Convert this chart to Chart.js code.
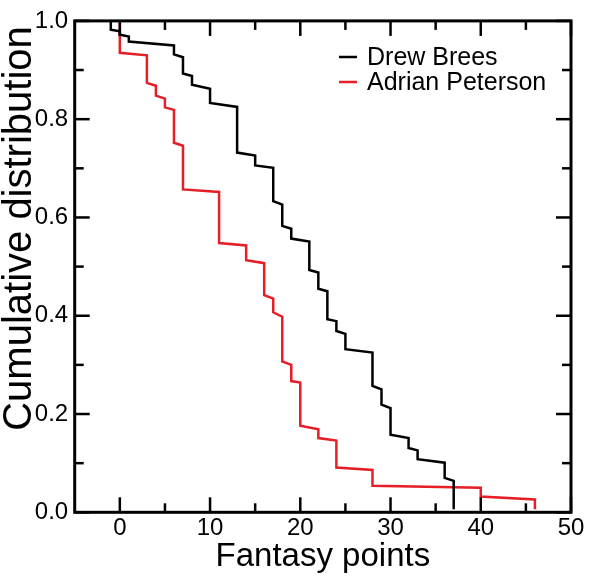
<!DOCTYPE html>
<html>
<head>
<meta charset="utf-8">
<script src="https://cdn.jsdelivr.net/npm/chart.js@4.4.0/dist/chart.umd.min.js"></script>
<style>
  html, body { margin: 0; padding: 0; background: #fff; }
  #wrap { width: 592px; height: 577px; position: relative; }
</style>
</head>
<body>
<div id="wrap"><canvas id="cdf"></canvas></div>
<script>
// points where each curve drops, with the level just before and just after the drop
const breesPoints = [-1, 0, 1, 6, 7, 8, 10, 13, 15, 17, 18, 19, 21, 22, 23, 24, 25, 28, 29, 30, 32, 33, 36, 37];
const breesBefore = [1.0, 0.979, 0.968, 0.950, 0.926, 0.888, 0.862, 0.825, 0.726, 0.701, 0.626, 0.577, 0.551, 0.488, 0.450, 0.389, 0.363, 0.325, 0.250, 0.212, 0.151, 0.126, 0.101, 0.064];
const breesAfter = [0.982, 0.972, 0.958, 0.932, 0.893, 0.870, 0.833, 0.732, 0.706, 0.633, 0.583, 0.557, 0.493, 0.455, 0.393, 0.369, 0.332, 0.257, 0.219, 0.158, 0.131, 0.108, 0.070, 0.006];

const petersonPoints = [0, 3, 4, 5, 6, 7, 11, 14, 16, 17, 18, 19, 20, 22, 24, 28, 40, 46];
const petersonBefore = [1.0, 0.930, 0.868, 0.842, 0.819, 0.746, 0.652, 0.543, 0.507, 0.435, 0.398, 0.300, 0.264, 0.169, 0.146, 0.086, 0.050, 0.026];
const petersonAfter = [0.935, 0.874, 0.848, 0.824, 0.752, 0.657, 0.548, 0.513, 0.442, 0.407, 0.307, 0.267, 0.176, 0.151, 0.091, 0.054, 0.032, 0.006];

const xTicks = [0, 10, 20, 30, 40, 50];
const xMinorTicks = [5, 15, 25, 35, 45];
const yTicks = [0, 0.2, 0.4, 0.6, 0.8, 1.0];
const yMinorTicks = [0.1, 0.3, 0.5, 0.7, 0.9];

const FONT = "'Liberation Sans', Arial, Helvetica, sans-serif";

function steps(xs, before, after) {
  const pts = [];
  xs.forEach((x, i) => {
    pts.push({ x: x, y: before[i] });
    pts.push({ x: x, y: after[i] });
  });
  return pts;
}

// frame with inward ticks on all four sides, legend and y title
const frame = {
  id: 'frame',
  afterDatasetsDraw(chart) {
    const { ctx, chartArea: a, scales: { x, y } } = chart;
    ctx.save();
    ctx.strokeStyle = '#000';
    ctx.lineCap = 'butt';
    const line = (x1, y1, x2, y2) => {
      ctx.beginPath();
      ctx.moveTo(x1, y1);
      ctx.lineTo(x2, y2);
      ctx.stroke();
    };
    ctx.lineWidth = 2.5;
    const xt = (vals, len) => vals.forEach(v => {
      const p = x.getPixelForValue(v);
      line(p, a.bottom, p, a.bottom - len);
      line(p, a.top, p, a.top + len);
    });
    const yt = (vals, len) => vals.forEach(v => {
      const p = y.getPixelForValue(v);
      line(a.left, p, a.left + len, p);
      line(a.right, p, a.right - len, p);
    });
    xt(xTicks, 15);
    xt(xMinorTicks, 9);
    yt(yTicks, 15);
    yt(yMinorTicks, 9);

    ctx.lineWidth = 3;
    ctx.strokeRect(a.left, a.top, a.right - a.left, a.bottom - a.top);

    // legend
    ctx.font = '25px ' + FONT;
    ctx.textBaseline = 'middle';
    ctx.textAlign = 'left';
    chart.data.datasets.forEach((ds, i) => {
      const ly = 57 + i * 25;
      ctx.strokeStyle = ds.borderColor;
      ctx.lineWidth = 2.5;
      line(339, ly, 357, ly);
      ctx.fillStyle = '#000';
      ctx.fillText(ds.label, 367, ly + 1);
    });

    // y axis title
    ctx.translate(31, 228.5);
    ctx.rotate(-Math.PI / 2);
    ctx.font = '40px ' + FONT;
    ctx.textAlign = 'center';
    ctx.textBaseline = 'alphabetic';
    ctx.fillStyle = '#000';
    ctx.fillText('Cumulative distribution', 0, 0);
    ctx.restore();
  }
};

new Chart(document.getElementById('cdf'), {
  type: 'scatter',
  data: {
    datasets: [
      {
        label: 'Drew Brees',
        data: steps(breesPoints, breesBefore, breesAfter),
        borderColor: '#000000',
        borderWidth: 2.5,
        showLine: true,
        pointRadius: 0,
        fill: false
      },
      {
        label: 'Adrian Peterson',
        data: steps(petersonPoints, petersonBefore, petersonAfter),
        borderColor: '#e61e25',
        borderWidth: 2.5,
        showLine: true,
        pointRadius: 0,
        fill: false
      }
    ]
  },
  options: {
    responsive: true,
    maintainAspectRatio: false,
    animation: false,
    layout: { padding: { top: 10.7, right: 21, left: 0, bottom: 0 } },
    plugins: {
      legend: { display: false },
      tooltip: { enabled: false }
    },
    scales: {
      x: {
        type: 'linear',
        min: -5,
        max: 50,
        afterBuildTicks: s => { s.ticks = xTicks.map(v => ({ value: v })); },
        afterFit: s => { s.height = 64.7; },
        grid: { display: false, drawTicks: false },
        border: { display: false },
        ticks: { padding: 2, autoSkip: false, maxRotation: 0, color: '#000', font: { size: 24, family: FONT } },
        title: { display: true, text: 'Fantasy points', color: '#000', padding: 0, font: { size: 33, family: FONT } }
      },
      y: {
        type: 'linear',
        min: 0,
        max: 1,
        afterBuildTicks: s => { s.ticks = yTicks.map(v => ({ value: v })); },
        afterFit: s => { s.width = 74.7; },
        grid: { display: false, drawTicks: false },
        border: { display: false },
        ticks: { padding: 6.5, autoSkip: false, color: '#000', font: { size: 24, family: FONT }, callback: v => v.toFixed(1) }
      }
    }
  },
  plugins: [frame]
});
</script>
</body>
</html>
